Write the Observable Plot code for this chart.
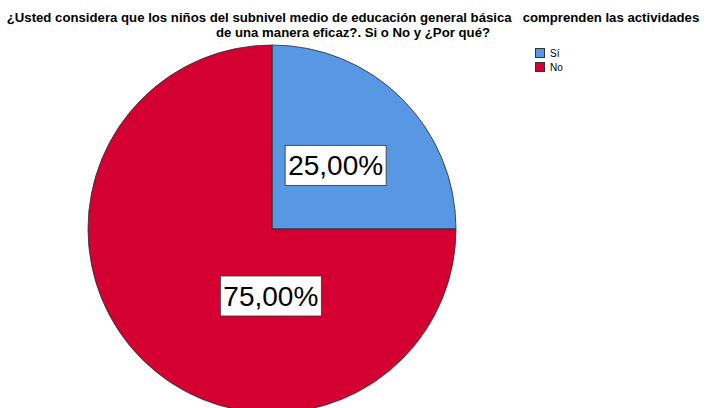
<!DOCTYPE html>
<html><head><meta charset="utf-8">
<script src="https://cdn.jsdelivr.net/npm/d3@7"></script>
<script src="https://cdn.jsdelivr.net/npm/@observablehq/plot@0.6"></script>
<style>
body{margin:0;background:#fff;}
#wrap{position:relative;width:706px;height:408px;overflow:hidden;font-family:Arial,"Liberation Sans",sans-serif;background:#fff;}
#title{height:42px;box-sizing:border-box;padding-top:10px;text-align:center;font-weight:bold;font-size:13.2px;line-height:15px;white-space:pre;color:#000;}
#legend{position:absolute;left:535px;top:46px;font-size:10px;color:#000;}
.row{display:flex;align-items:center;height:14px;}
.sw{width:8px;height:8px;border:1px solid #333;margin-right:5px;}
#chart svg{display:block;}
</style>
</head><body>
<div id="wrap">
  <div id="title"></div>
  <div id="chart"></div>
  <div id="legend"></div>
</div>
<script>
const titleLines = ["¿Usted considera que los niños del subnivel medio de educación general básica   comprenden las actividades", "de una manera eficaz?. Si o No y ¿Por qué?"];
const categories = ["Sí", "No"];
const percents = [25, 75];
const labels = ["25,00%", "75,00%"];

const palette = ["#5897e3", "#d50032"];
const color = d3.scaleOrdinal().domain(categories).range(palette);

document.getElementById("title").textContent = titleLines.join("\n");

const legend = d3.select("#legend");
categories.forEach(c => {
  const row = legend.append("div").attr("class", "row");
  row.append("div").attr("class", "sw").style("background", color(c));
  row.append("span").text(c);
});

const W = 706, H = 366;
const cxv = 272, cyv = 187, R = 184;
// label placement (angle in degrees clockwise from 12 o'clock, distance in px)
const labelAngle = [45, 181];
const labelDist = [90, 67];

function pieMark(index, scales, values, dimensions) {
  const x = scales.x, y = scales.y;
  const cx = x(cxv), cy = y(cyv);
  const g = d3.create("svg:g").attr("transform", `translate(${cx},${cy})`);
  const arcs = d3.pie().sort(null).value(d => d)(percents);
  const arc = d3.arc().innerRadius(0).outerRadius(R);
  g.selectAll("path").data(arcs).join("path")
    .attr("d", arc)
    .attr("fill", (d, i) => color(categories[i]))
    .attr("stroke", "#2a2a2a")
    .attr("stroke-width", 0.8)
    .attr("stroke-linejoin", "round");
  const lab = g.selectAll("g.lab").data(arcs).join("g").attr("class", "lab")
    .attr("transform", (d, i) => {
      const a = labelAngle[i] * Math.PI / 180;
      return `translate(${labelDist[i] * Math.sin(a)},${-labelDist[i] * Math.cos(a)})`;
    });
  lab.append("rect")
    .attr("x", -50.5).attr("y", -20).attr("width", 101).attr("height", 40)
    .attr("fill", "#fff").attr("stroke", "#333").attr("stroke-width", 0.8);
  lab.append("text")
    .attr("text-anchor", "middle").attr("dy", "0.36em")
    .attr("font-family", "Arial, 'Liberation Sans', sans-serif")
    .attr("font-size", 28).attr("fill", "#000")
    .text((d, i) => labels[i]);
  return g.node();
}

const plot = Plot.plot({
  width: W, height: H,
  marginTop: 0, marginBottom: 0, marginLeft: 0, marginRight: 0,
  x: {domain: [0, W], range: [0, W], axis: null},
  y: {domain: [0, H], range: [0, H], axis: null},
  style: {background: "#fff", overflow: "visible"},
  marks: [pieMark]
});
document.getElementById("chart").appendChild(plot);
</script>
</body></html>
